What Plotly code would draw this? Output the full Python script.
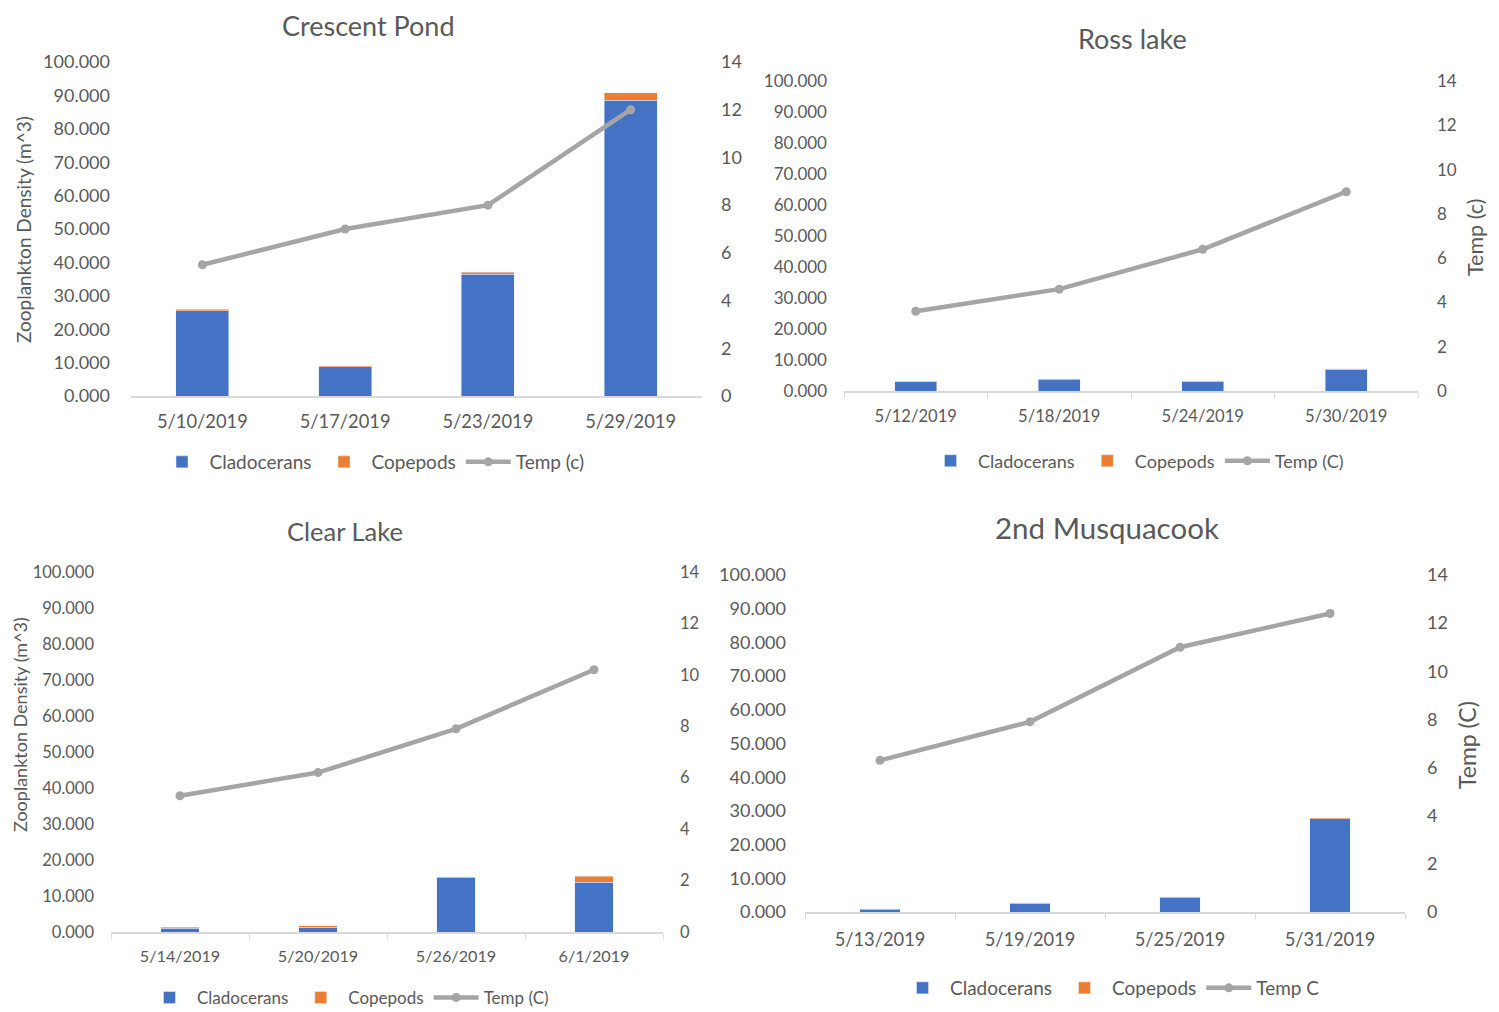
import plotly.graph_objects as go

# ---------------- data ----------------
titles = ["Crescent Pond", "Ross lake", "Clear Lake", "2nd Musquacook"]

dates_crescent = ["5/10/2019", "5/17/2019", "5/23/2019", "5/29/2019"]
clad_crescent = [25.5, 8.8, 36.5, 88.5]
cope_crescent = [0.5, 0.3, 0.5, 2.3]
temp_crescent = [5.5, 7.0, 8.0, 12.0]

dates_ross = ["5/12/2019", "5/18/2019", "5/24/2019", "5/30/2019"]
clad_ross = [3.0, 3.7, 3.1, 7.0]
cope_ross = [0.2, 0.2, 0.2, 0.2]
temp_ross = [3.6, 4.6, 6.4, 9.0]

dates_clear = ["5/14/2019", "5/20/2019", "5/26/2019", "6/1/2019"]
clad_clear = [1.0, 1.3, 15.1, 13.8]
cope_clear = [0.3, 0.4, 0.3, 1.7]
temp_clear = [5.3, 6.2, 7.9, 10.2]

dates_musq = ["5/13/2019", "5/19/2019", "5/25/2019", "5/31/2019"]
clad_musq = [0.6, 2.6, 4.3, 27.6]
cope_musq = [0.3, 0.2, 0.3, 0.3]
temp_musq = [6.3, 7.9, 11.0, 12.4]

temp_names = ["Temp (c)", "Temp (C)", "Temp (C)", "Temp C"]

density_ticks = [0, 10, 20, 30, 40, 50, 60, 70, 80, 90, 100]
temp_ticks = [0, 2, 4, 6, 8, 10, 12, 14]

# ---------------- style ----------------
BLUE = "#4472C4"
ORANGE = "#ED7D31"
GRAY = "#A5A5A5"
TXT = "#595959"
AXL = "#D9D9D9"
FONT = "Lato"
W, H = 1499, 1012
OFF = 8  # page body margin


def fx(px):
    return (px - OFF) / W


def fy(py):
    return 1 - (py - OFF) / H


panels = [
    dict(dates=dates_crescent, clad=clad_crescent, cope=cope_crescent, temp=temp_crescent,
         xd=[131, 702], yd=[62, 396], gap=0.63, ticks=False,
         tick=18, date=18.3, lstand=20, rstand=18, xstand=8, leg=19),
    dict(dates=dates_ross, clad=clad_ross, cope=cope_ross, temp=temp_ross,
         xd=[844, 1418], yd=[81, 391], gap=0.71, ticks=True,
         tick=17, date=16.6, lstand=16, rstand=18, xstand=9, leg=18),
    dict(dates=dates_clear, clad=clad_clear, cope=cope_clear, temp=temp_clear,
         xd=[111, 663], yd=[572, 932], gap=0.72, ticks=True,
         tick=16.5, date=16.2, lstand=16, rstand=16, xstand=9, leg=17),
    dict(dates=dates_musq, clad=clad_musq, cope=cope_musq, temp=temp_musq,
         xd=[805, 1405], yd=[575, 912], gap=0.73, ticks=True,
         tick=18, date=18.3, lstand=18, rstand=21, xstand=10, leg=19),
]

legend_pos = [(372, 462), (1136, 461), (348, 998), (1110, 988)]
title_pos = [(368, 25, 27), (1132, 38, 27), (345, 531, 25.5), (1107, 527, 29.5)]

fig = go.Figure()
layout = dict(
    width=W, height=H,
    margin=dict(l=0, r=0, t=0, b=0, autoexpand=False),
    paper_bgcolor="white", plot_bgcolor="white",
    barmode="stack",
    font=dict(family=FONT, color=TXT, size=16),
    showlegend=True,
    annotations=[],
)

for i, p in enumerate(panels):
    n = i + 1
    xs = "" if n == 1 else str(n)
    xname = "x" + xs
    yname = "y" + xs
    y2name = "y" + str(n + 4)
    leg = "legend" if n == 1 else "legend" + str(n)

    fig.add_trace(go.Bar(x=p["dates"], y=p["clad"], name="Cladocerans", marker_color=BLUE,
                         xaxis=xname, yaxis=yname, legend=leg, width=1 - p["gap"]))
    fig.add_trace(go.Bar(x=p["dates"], y=p["cope"], name="Copepods", marker_color=ORANGE,
                         xaxis=xname, yaxis=yname, legend=leg, width=1 - p["gap"]))
    fig.add_trace(go.Scatter(x=p["dates"], y=p["temp"], name=temp_names[i], mode="lines+markers",
                             line=dict(color=GRAY, width=4.5), marker=dict(color=GRAY, size=9),
                             xaxis=xname, yaxis=y2name, legend=leg))

    xdom = [fx(p["xd"][0]), fx(p["xd"][1])]
    ydom = [fy(p["yd"][1]), fy(p["yd"][0])]

    layout["xaxis" + xs] = dict(
        domain=xdom, anchor=yname, type="category", range=[-0.5, 3.5],
        showline=True, linecolor=AXL, linewidth=1.5, showgrid=False, automargin=False,
        ticks="outside" if p["ticks"] else "", tickson="boundaries", ticklen=5, tickcolor=AXL,
        tickfont=dict(size=p["date"], color=TXT), ticklabelstandoff=p["xstand"],
    )
    layout["yaxis" + xs] = dict(
        domain=ydom, anchor=xname, range=[0, 100], tickvals=density_ticks,
        tickformat=".3f", showgrid=False, zeroline=False, showline=False, automargin=False,
        tickfont=dict(size=p["tick"], color=TXT), ticklabelstandoff=p["lstand"],
    )
    layout["yaxis" + str(n + 4)] = dict(
        overlaying=yname, anchor=xname, side="right", range=[0, 14], tickvals=temp_ticks,
        showgrid=False, zeroline=False, showline=False, automargin=False,
        tickfont=dict(size=p["tick"], color=TXT), ticklabelstandoff=p["rstand"],
    )
    lx, ly = legend_pos[i]
    layout[leg] = dict(
        orientation="h", x=fx(lx), y=fy(ly), xanchor="center", yanchor="middle",
        traceorder="normal",
        font=dict(size=p["leg"], color=TXT), bgcolor="rgba(0,0,0,0)", itemwidth=45,
    )
    tx, ty, ts = title_pos[i]
    layout["annotations"].append(dict(
        text=titles[i], x=fx(tx), y=fy(ty), xref="paper", yref="paper",
        showarrow=False, xanchor="center", yanchor="middle",
        font=dict(size=ts, color=TXT, family=FONT)))

# axis titles
axis_titles = [
    ("Zooplankton Density (m^3)", 23, 230, 19),
    ("Zooplankton Density (m^3)", 20, 725, 18),
    ("Temp (c)", 1475, 238, 21.5),
    ("Temp (C)", 1467, 745, 23),
]
for t, ax, ay, sz in axis_titles:
    layout["annotations"].append(dict(
        text=t, x=fx(ax), y=fy(ay), xref="paper", yref="paper", showarrow=False,
        textangle=-90, xanchor="center", yanchor="middle",
        font=dict(size=sz, color=TXT, family=FONT)))

fig.update_layout(**layout)
fig.write_html("out.html")
